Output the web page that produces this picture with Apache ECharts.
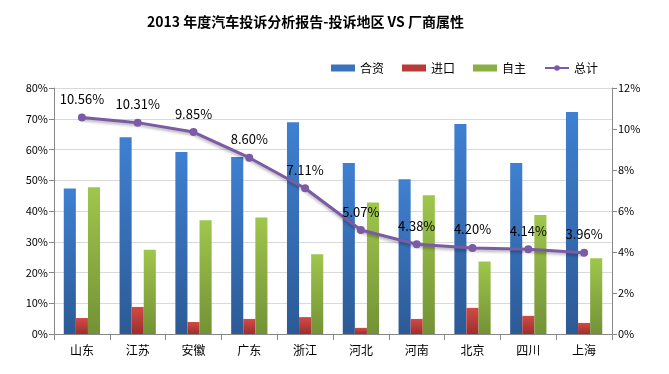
<!DOCTYPE html>
<html><head><meta charset="utf-8">
<script src="https://cdn.jsdelivr.net/npm/echarts@6/dist/echarts.min.js"></script>
<style>html,body{margin:0;padding:0;background:#fff}#c{width:669px;height:374px}</style>
</head><body><div id="c"></div>
<script>
const categories = ['山东','江苏','安徽','广东','浙江','河北','河南','北京','四川','上海'];
const hezi = [47.3, 64.0, 59.2, 57.6, 68.9, 55.6, 50.3, 68.3, 55.6, 72.2];
const jinkou = [5.2, 8.8, 3.9, 4.9, 5.5, 2.0, 4.9, 8.5, 5.9, 3.6];
const zizhu = [47.7, 27.4, 37.0, 37.9, 25.9, 42.8, 45.1, 23.6, 38.7, 24.6];
const zongji = [10.56, 10.31, 9.85, 8.60, 7.11, 5.07, 4.38, 4.20, 4.14, 3.96];
const leftTicks = [0, 10, 20, 30, 40, 50, 60, 70, 80];
const rightTicks = [0, 2, 4, 6, 8, 10, 12];

const font = '"Noto Sans CJK SC","Noto Sans",sans-serif';
function grad(top, bottom) {
  return new echarts.graphic.LinearGradient(0, 0, 0, 1, [{offset: 0, color: top}, {offset: 1, color: bottom}]);
}
const chart = echarts.init(document.getElementById('c'));
chart.setOption({
  animation: false,
  textStyle: {fontFamily: font},
  title: {
    text: '2013 年度汽车投诉分析报告-投诉地区 VS 厂商属性',
    left: 142, top: 10,
    textStyle: {fontSize: 14, fontWeight: 'bold', color: '#000', fontFamily: font}
  },
  legend: {
    top: 57, left: 326,
    itemWidth: 24, itemHeight: 7, itemGap: 18,
    textStyle: {fontSize: 12, color: '#000', fontFamily: font},
    data: [
      {name: '合资', icon: 'rect', itemStyle: {color: '#3a72bb'}},
      {name: '进口', icon: 'rect', itemStyle: {color: '#b83b38'}},
      {name: '自主', icon: 'rect', itemStyle: {color: '#8aaf42'}},
      {name: '总计'}
    ]
  },
  grid: {left: 54, right: 57, top: 88, bottom: 40},
  xAxis: {
    type: 'category', data: categories,
    axisLine: {lineStyle: {color: '#888'}},
    axisTick: {show: true, length: 6, lineStyle: {color: '#888'}},
    axisLabel: {fontSize: 12, color: '#000', margin: 10}
  },
  yAxis: [
    {
      type: 'value', min: leftTicks[0], max: leftTicks[leftTicks.length - 1], interval: 10,
      axisLine: {show: true, lineStyle: {color: '#888'}},
      axisTick: {show: true, length: 5, lineStyle: {color: '#888'}},
      axisLabel: {formatter: v => v + '%', fontSize: 11, color: '#000', margin: 6},
      splitLine: {lineStyle: {color: '#d9d9d9'}}
    },
    {
      type: 'value', min: rightTicks[0], max: rightTicks[rightTicks.length - 1], interval: 2,
      axisLine: {show: true, lineStyle: {color: '#888'}},
      axisTick: {show: true, length: 5, lineStyle: {color: '#888'}},
      axisLabel: {formatter: v => v + '%', fontSize: 11, color: '#000', margin: 6},
      splitLine: {show: false}
    }
  ],
  series: [
    {name: '合资', type: 'bar', data: hezi, barGap: '0%', barCategoryGap: '35%',
     itemStyle: {color: grad('#3f80d2', '#2c5a95')}},
    {name: '进口', type: 'bar', data: jinkou,
     itemStyle: {color: grad('#d24a46', '#9c2f2c')}},
    {name: '自主', type: 'bar', data: zizhu,
     itemStyle: {color: grad('#9fc64c', '#739236')}},
    {name: '总计', type: 'line', yAxisIndex: 1, data: zongji,
     symbol: 'circle', symbolSize: 8,
     lineStyle: {color: '#7b5ba6', width: 3, shadowColor: 'rgba(0,0,0,0.3)', shadowBlur: 3, shadowOffsetY: 2},
     itemStyle: {color: '#7b5ba6'},
     label: {show: true, position: 'top', distance: 8, formatter: p => p.value.toFixed(2) + '%',
       fontSize: 13, color: '#000', fontFamily: font}
    }
  ]
});
</script></body></html>
